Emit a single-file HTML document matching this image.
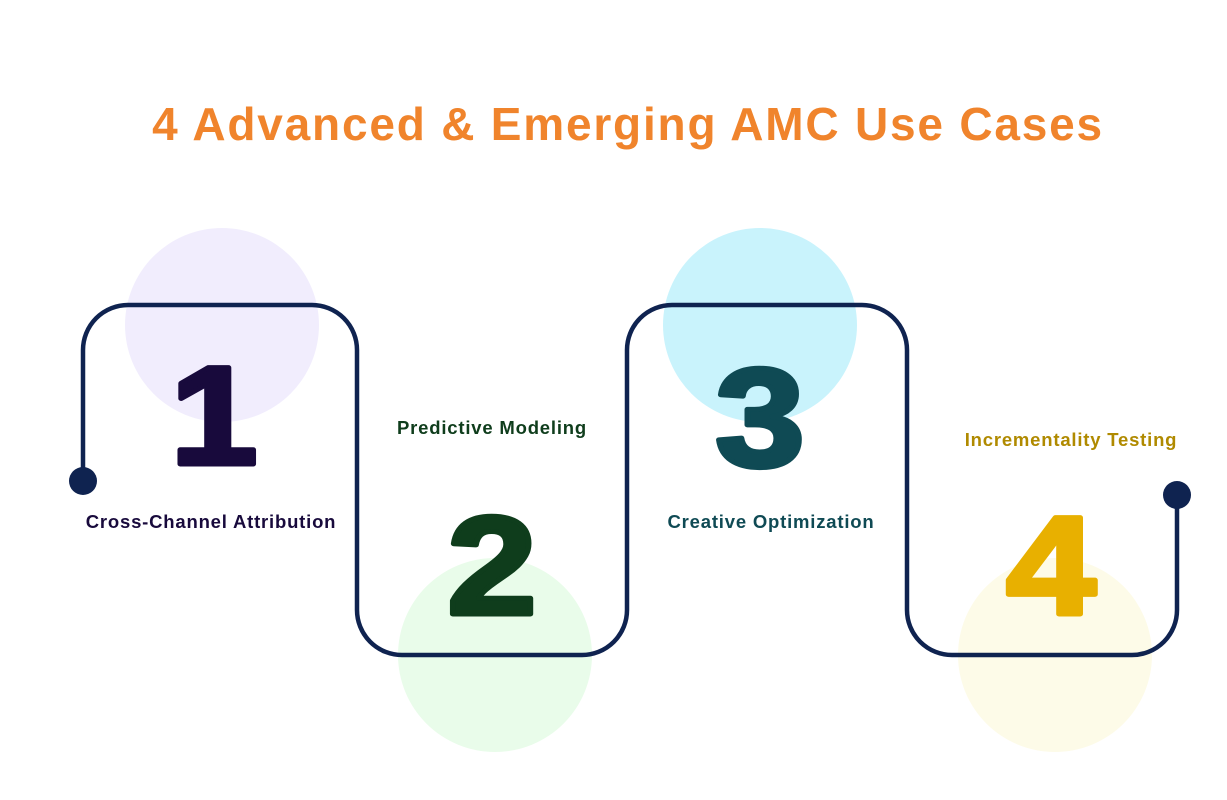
<!DOCTYPE html>
<html><head><meta charset="utf-8"><style>
body{margin:0;background:#fff;}
svg{display:block}
</style></head><body>
<svg width="1227" height="800" viewBox="0 0 1227 800" xmlns="http://www.w3.org/2000/svg">
<rect width="1227" height="800" fill="#fff"/>
<circle cx="222" cy="325" r="97" fill="#f1edfd"/>
<circle cx="495" cy="655" r="97" fill="#e9fcea"/>
<circle cx="760" cy="325" r="97" fill="#c9f3fc"/>
<circle cx="1055" cy="655" r="97" fill="#fdfbe8"/>
<text x="628" y="140" text-anchor="middle" font-family="Liberation Sans, sans-serif" font-weight="bold" font-size="46" fill="#f0842c" letter-spacing="1.8">4 Advanced &amp; Emerging AMC Use Cases</text>
<path d="M83 481 V350 A45 45 0 0 1 128 305 H312 A45 45 0 0 1 357 350 V610 A45 45 0 0 0 402 655 H582 A45 45 0 0 0 627 610 V350 A45 45 0 0 1 672 305 H862 A45 45 0 0 1 907 350 V610 A45 45 0 0 0 952 655 H1132 A45 45 0 0 0 1177 610 V495" fill="none" stroke="#0f2350" stroke-width="4.5"/>
<circle cx="83" cy="481" r="14" fill="#0f2350"/>
<circle cx="1177" cy="495" r="14" fill="#0f2350"/>
<g font-family="Liberation Sans, sans-serif" font-weight="bold" font-size="140" text-anchor="middle" stroke-width="5" stroke-linejoin="round">
<text transform="translate(214 464) scale(1.12 1)" fill="#180a3c" stroke="#180a3c">1</text>
<text transform="translate(492 614) scale(1.15 1)" fill="#0f3d1c" stroke="#0f3d1c">2</text>
<text transform="translate(760 466) scale(1.15 1)" fill="#0f4a54" stroke="#0f4a54">3</text>
<text transform="translate(1051 614) scale(1.15 1)" fill="#e8b000" stroke="#e8b000">4</text>
</g>
<g font-family="Liberation Sans, sans-serif" font-weight="bold" font-size="18.5" letter-spacing="0.8" text-anchor="middle">
<text x="211" y="528" fill="#180a3c">Cross-Channel Attribution</text>
<text x="492" y="434" fill="#0f3d1c">Predictive Modeling</text>
<text x="771" y="528" fill="#0f4a54">Creative Optimization</text>
<text x="1071" y="446" fill="#b08a00">Incrementality Testing</text>
</g>
</svg>
</body></html>
